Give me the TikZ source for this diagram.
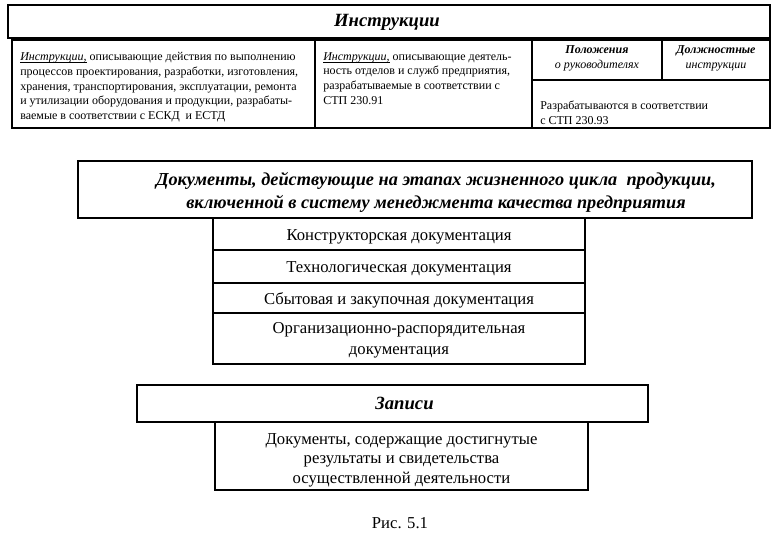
\documentclass[tikz,border=0pt]{standalone}
\usepackage{fontspec}
\setmainfont{Liberation Serif}
\usetikzlibrary{positioning,calc}
\def\rowtop{40}
\def\rowbottom{128}
\def\cellmargin{8}
\newcommand{\ulword}[1]{\setbox0\hbox{#1}\rlap{\vrule height -1.1pt depth 1.6pt width \wd0}#1}

\tikzset{
  boxline/.style={line width=1pt},
  headtext/.style={font=\bfseries\itshape\fontsize{14}{16}\selectfont, inner sep=0},
  celltext/.style={font=\fontsize{9}{11.1}\selectfont, align=left, inner sep=0, anchor=north west},
  smallhead/.style={font=\itshape\fontsize{9}{11.1}\selectfont, align=center, inner sep=0},
  doctext/.style={font=\fontsize{12.5}{14.3}\selectfont, align=center, inner sep=0},
}

\begin{document}
\begin{tikzpicture}[x=0.75pt,y=-0.75pt]
  \useasboundingbox (0,0) rectangle (783,539);

  % Instructions header and table
  \coordinate (IH0) at (8,5);
  \coordinate (IH1) at (770,38);
  \draw[boxline] (IH0) rectangle (IH1);
  \node[headtext] (IH-text) at ($ (IH0)!0.5!(IH1) + (-2,1) $) {Инструкции};

  \coordinate (IR0) at (12,\rowtop);
  \coordinate (IR1) at (770,\rowbottom);
  \coordinate (C1T) at (315,\rowtop);
  \coordinate (C1B) at (315,\rowbottom);
  \coordinate (C2T) at (532,\rowtop);
  \coordinate (C2B) at (532,\rowbottom);
  \coordinate (C3T) at (662,\rowtop);
  \coordinate (C3B) at (662,80);
  \coordinate (C4E) at (770,80);
  \draw[boxline] (IR0) rectangle (IR1);
  \draw[boxline] (C1T) -- (C1B);
  \draw[boxline] (C2T) -- (C2B);
  \draw[boxline] (C3T) -- (C3B);
  \draw[boxline] (C2T |- C3B) -- (C4E);

  \node[celltext] (IA-text) at ($ (IR0) + (\cellmargin,12) $)
    {\ulword{\textit{Инструкции,}} описывающие действия по выполнению\\
     процессов проектирования, разработки, изготовления,\\
     хранения, транспортирования, эксплуатации, ремонта\\
     и утилизации оборудования и продукции, разрабаты-\\
     ваемые в соответствии с ЕСКД\ \ и ЕСТД};
  \node[celltext] (IB-text) at ($ (C1T) + (\cellmargin,12) $)
    {\ulword{\textit{Инструкции,}} описывающие деятель-\\
     ность отделов и служб предприятия,\\
     разрабатываемые в соответствии с\\
     СТП 230.91};
  \node[smallhead] (IC-text) at ($ (C2T)!0.5!(C3B) + (0,-2) $)
    {\textbf{Положения}\\о руководителях};
  \node[smallhead] (ID-text) at ($ (C3T)!0.5!(C4E) + (0,-2) $)
    {\textbf{Должностные}\\инструкции};
  \node[celltext, anchor=south west] (IE-text) at ($ (C2B) + (\cellmargin,-3) $)
    {Разрабатываются в соответствии\\с СТП 230.93};

  % Documents of the life cycle
  \coordinate (DH0) at (78,161);
  \coordinate (DH1) at (752,218);
  \draw[boxline] (DH0) rectangle (DH1);
  \node[headtext, align=center, font=\bfseries\itshape\fontsize{13.7}{17.3}\selectfont]
    (DH-text) at ($ (DH0)!0.5!(DH1) + (21,3) $)
    {Документы, действующие на этапах жизненного цикла\ \ продукции,\\
     включенной в систему менеджмента качества предприятия};

  \coordinate (DS0) at (213,218);
  \coordinate (DS1) at (585,250);
  \coordinate (DS2) at (585,283);
  \coordinate (DS3) at (585,313);
  \coordinate (DS4) at (585,364);
  \draw[boxline] (DS0) rectangle (DS1);
  \draw[boxline] (DS0 |- DS1) rectangle (DS2);
  \draw[boxline] (DS0 |- DS2) rectangle (DS3);
  \draw[boxline] (DS0 |- DS3) rectangle (DS4);
  \node[doctext] (DK-text) at ($ (DS0)!0.5!(DS1) + (0,3) $) {Конструкторская документация};
  \node[doctext] (DT-text) at ($ (DS0 |- DS1)!0.5!(DS2) + (0,2) $) {Технологическая документация};
  \node[doctext] (DB-text) at ($ (DS0 |- DS2)!0.5!(DS3) + (0,2) $) {Сбытовая и закупочная документация};
  \node[doctext, font=\fontsize{12.5}{16}\selectfont] (DO-text) at ($ (DS0 |- DS3)!0.5!(DS4) + (0,2) $)
    {Организационно-распорядительная\\документация};

  % Records
  \coordinate (ZH0) at (137,385);
  \coordinate (ZH1) at (648,422);
  \draw[boxline] (ZH0) rectangle (ZH1);
  \node[headtext] (ZH-text) at ($ (ZH0)!0.5!(ZH1) + (12,0) $) {Записи};

  \coordinate (ZB0) at (215,422);
  \coordinate (ZB1) at (588,490);
  \draw[boxline] (ZB0) rectangle (ZB1);
  \node[doctext, font=\fontsize{12.5}{14.6}\selectfont] (ZB-text) at ($ (ZB0)!0.5!(ZB1) + (0,4) $)
    {Документы, содержащие достигнутые\\
     результаты и свидетельства\\
     осуществленной деятельности};

  \node[doctext] (fig-caption) at (400,523) {Рис. 5.1};
\end{tikzpicture}
\end{document}
